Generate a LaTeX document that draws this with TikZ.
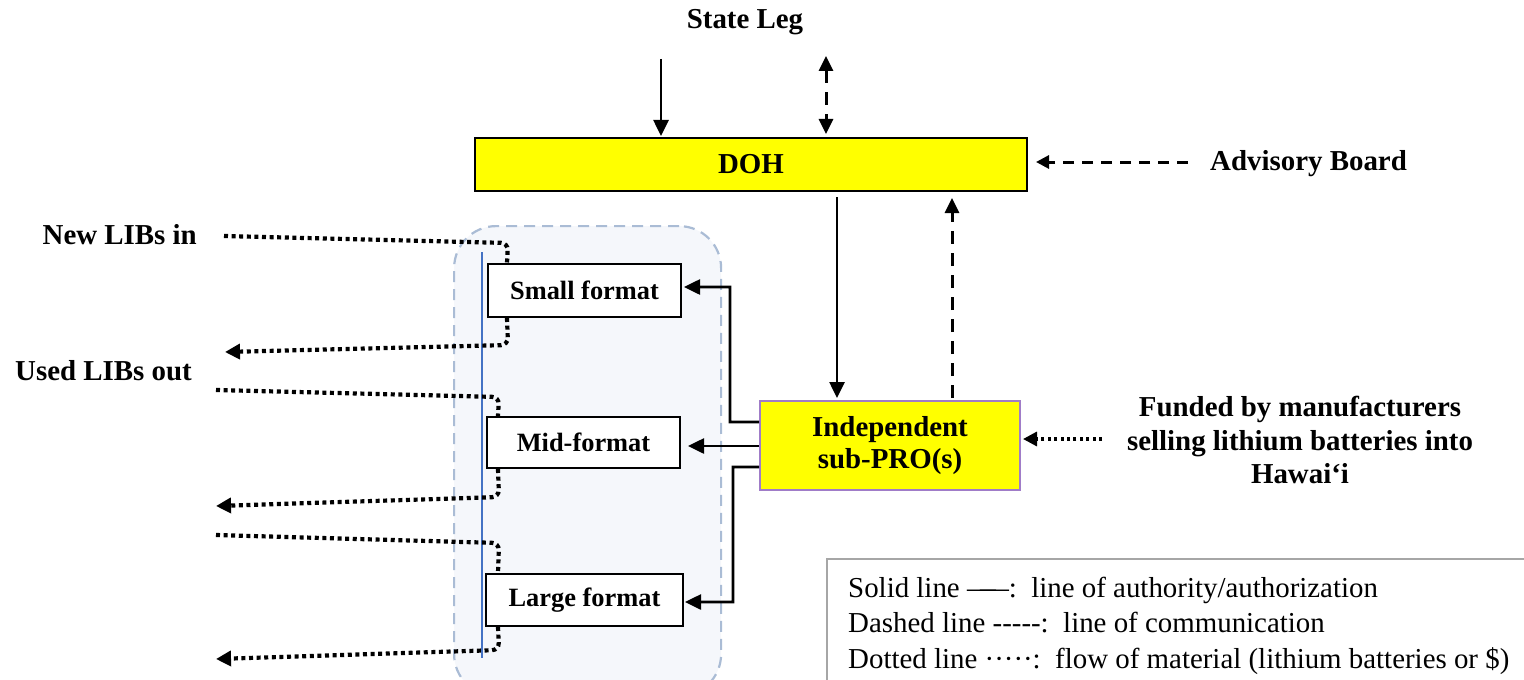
\documentclass[tikz,border=0pt]{standalone}
\usepackage{fontspec}
\setmainfont{Liberation Serif}
\usetikzlibrary{arrows.meta,calc}
\definecolor{boxyellow}{HTML}{FFFF00}
\definecolor{groupfill}{HTML}{F5F7FB}
\definecolor{groupline}{HTML}{AABCD5}
\definecolor{bluerule}{HTML}{4472C4}
\definecolor{legline}{HTML}{A6A6A6}
\definecolor{proline}{HTML}{A07CC8}
\begin{document}
\begin{tikzpicture}[x=1bp,y=-1bp,
  lbl/.style={font=\bfseries\fontsize{29}{33.5}\selectfont, inner sep=0pt, align=center},
  fmtbox/.style={draw, line width=2bp, fill=white, inner sep=0pt,
    font=\bfseries\fontsize{26.5}{30}\selectfont},
  yelbox/.style={draw, line width=2bp, fill=boxyellow, inner sep=0pt, align=center,
    font=\bfseries\fontsize{29}{33}\selectfont},
  legtxt/.style={font=\fontsize{29}{35}\selectfont, inner sep=0pt, anchor=base west},
  authline/.style={line width=2.6bp, -{Triangle[length=16bp,width=15bp]}},
  commline/.style={line width=3bp, dash pattern=on 13bp off 9bp, -{Triangle[length=15bp,width=14bp]}},
  flowline/.style={line width=4.2bp, dash pattern=on 4bp off 3.6bp, rounded corners=7bp},
  flowtip/.style={-{Triangle[length=15bp,width=15bp]}},
]
\useasboundingbox (0,0) rectangle (1524,680);

% group container
\node[draw=groupline, fill=groupfill, line width=2.2bp, dash pattern=on 11bp off 7bp,
  rounded corners=42bp, minimum width=267bp, minimum height=470bp, anchor=north west, inner sep=0pt]
  (group) at (453,225) {};
\coordinate (bl1) at (482,252);
\coordinate (bl2) at (482,658);
\draw[bluerule, line width=1.2bp] (bl1) -- (bl2);

% main boxes
\node[yelbox, minimum width=552bp, minimum height=53bp] (doh) at (751,164.5) {DOH};
\node[yelbox, draw=proline, minimum width=260bp, minimum height=89bp] (pro) at (890,445.5) {Independent\\sub-PRO(s)};

\node[fmtbox, minimum width=193bp, minimum height=53bp] (small) at (584.5,290.5) {Small format};
\node[fmtbox, minimum width=193bp, minimum height=51bp] (mid) at (583.5,442.5) {Mid-format};
\node[fmtbox, minimum width=197bp, minimum height=52bp] (large) at (584.5,600) {Large format};

% labels
\node[lbl] (state) at (745,22) {State Leg};
\node[lbl, anchor=base west] (adv) at (1210,170) {Advisory Board};
\node[lbl] (fund) at (1300,440) {Funded by manufacturers\\selling lithium batteries into\\Hawai‘i};
\node[lbl, anchor=east] (newin) at (197,235) {New LIBs in};
\node[lbl, anchor=east] (usedout) at (192,371) {Used LIBs out};

% legend
\node[draw=legline, line width=2bp, minimum width=720bp, minimum height=140bp, anchor=north west, inner sep=0pt]
  (legend) at (826,558) {};
\node[legtxt] (leg1) at (848,597) {Solid line —\kern-0.55em—:\ \ line of authority/authorization};
\node[legtxt] (leg2) at (848,632) {Dashed line -{}-{}-{}-{}-:\ \ line of communication};
\node[legtxt] (leg3) at (848,668) {Dotted line ·····:\ \ flow of material (lithium batteries or \$)};

% State Leg connectors
\coordinate (sl) at (661,59);
\draw[authline, shorten >=1bp] (sl) -- (doh.north -| sl);
\coordinate (sd) at (826,56);
\draw[commline, {Triangle[length=15bp,width=14bp]}-{Triangle[length=15bp,width=14bp]}, shorten >=3bp]
  (sd) -- (doh.north -| sd);

% Advisory board
\coordinate (adv0) at (1188,162);
\draw[line width=3bp, dash pattern=on 11bp off 8bp, -{Triangle[length=13bp,width=13bp]}, shorten >=8bp]
  (adv0) -- (doh.east |- adv0);

% DOH <-> PRO
\coordinate (vA) at (837,0);
\draw[authline, shorten <=5bp, shorten >=2bp] (doh.south -| vA) -- (pro.north -| vA);
\coordinate (vB) at (952,0);
\draw[commline, shorten <=2bp, shorten >=6bp] (pro.north -| vB) -- (doh.south -| vB);

% funded
\coordinate (fund0) at (1102,439);
\draw[line width=3.2bp, dash pattern=on 3bp off 3.4bp, -{Triangle[length=14bp,width=14bp]}, shorten >=2bp]
  (fund0) -- (pro.east |- fund0);

% PRO -> format boxes
\draw[authline, shorten >=2bp] ([yshift=23.5bp]pro.west) -| ($(small.east)+(48,-3.5)$) -- ([yshift=3.5bp]small.east);
\draw[authline, shorten >=7bp] ([yshift=-0.5bp]pro.west) -- ([yshift=-0.5bp]pro.west -| mid.east);
\draw[authline, shorten >=1bp] ([yshift=-21.5bp]pro.west) -| ($(large.east)+(49,2)$) -- ([yshift=-2bp]large.east);

% material flow
\coordinate (in1) at (224,236);
\coordinate (out1) at (225,352);
\coordinate (in2) at (216,390);
\coordinate (out2) at (216,506);
\coordinate (in3) at (216,535);
\coordinate (out3) at (216,659);
\draw[flowline] (in1) -- (508,243) -- ([xshift=20bp]small.north west);
\draw[flowline, flowtip] ([xshift=20bp]small.south west) -- (508,345) -- (out1);
\draw[flowline] (in2) -- (499,397) -- ([xshift=12bp]mid.north west);
\draw[flowline, flowtip] ([xshift=12bp]mid.south west) -- (499,497) -- (out2);
\draw[flowline] (in3) -- (499,543) -- ([xshift=13bp]large.north west);
\draw[flowline, flowtip] ([xshift=13bp]large.south west) -- (499,650) -- (out3);
\end{tikzpicture}
\end{document}
